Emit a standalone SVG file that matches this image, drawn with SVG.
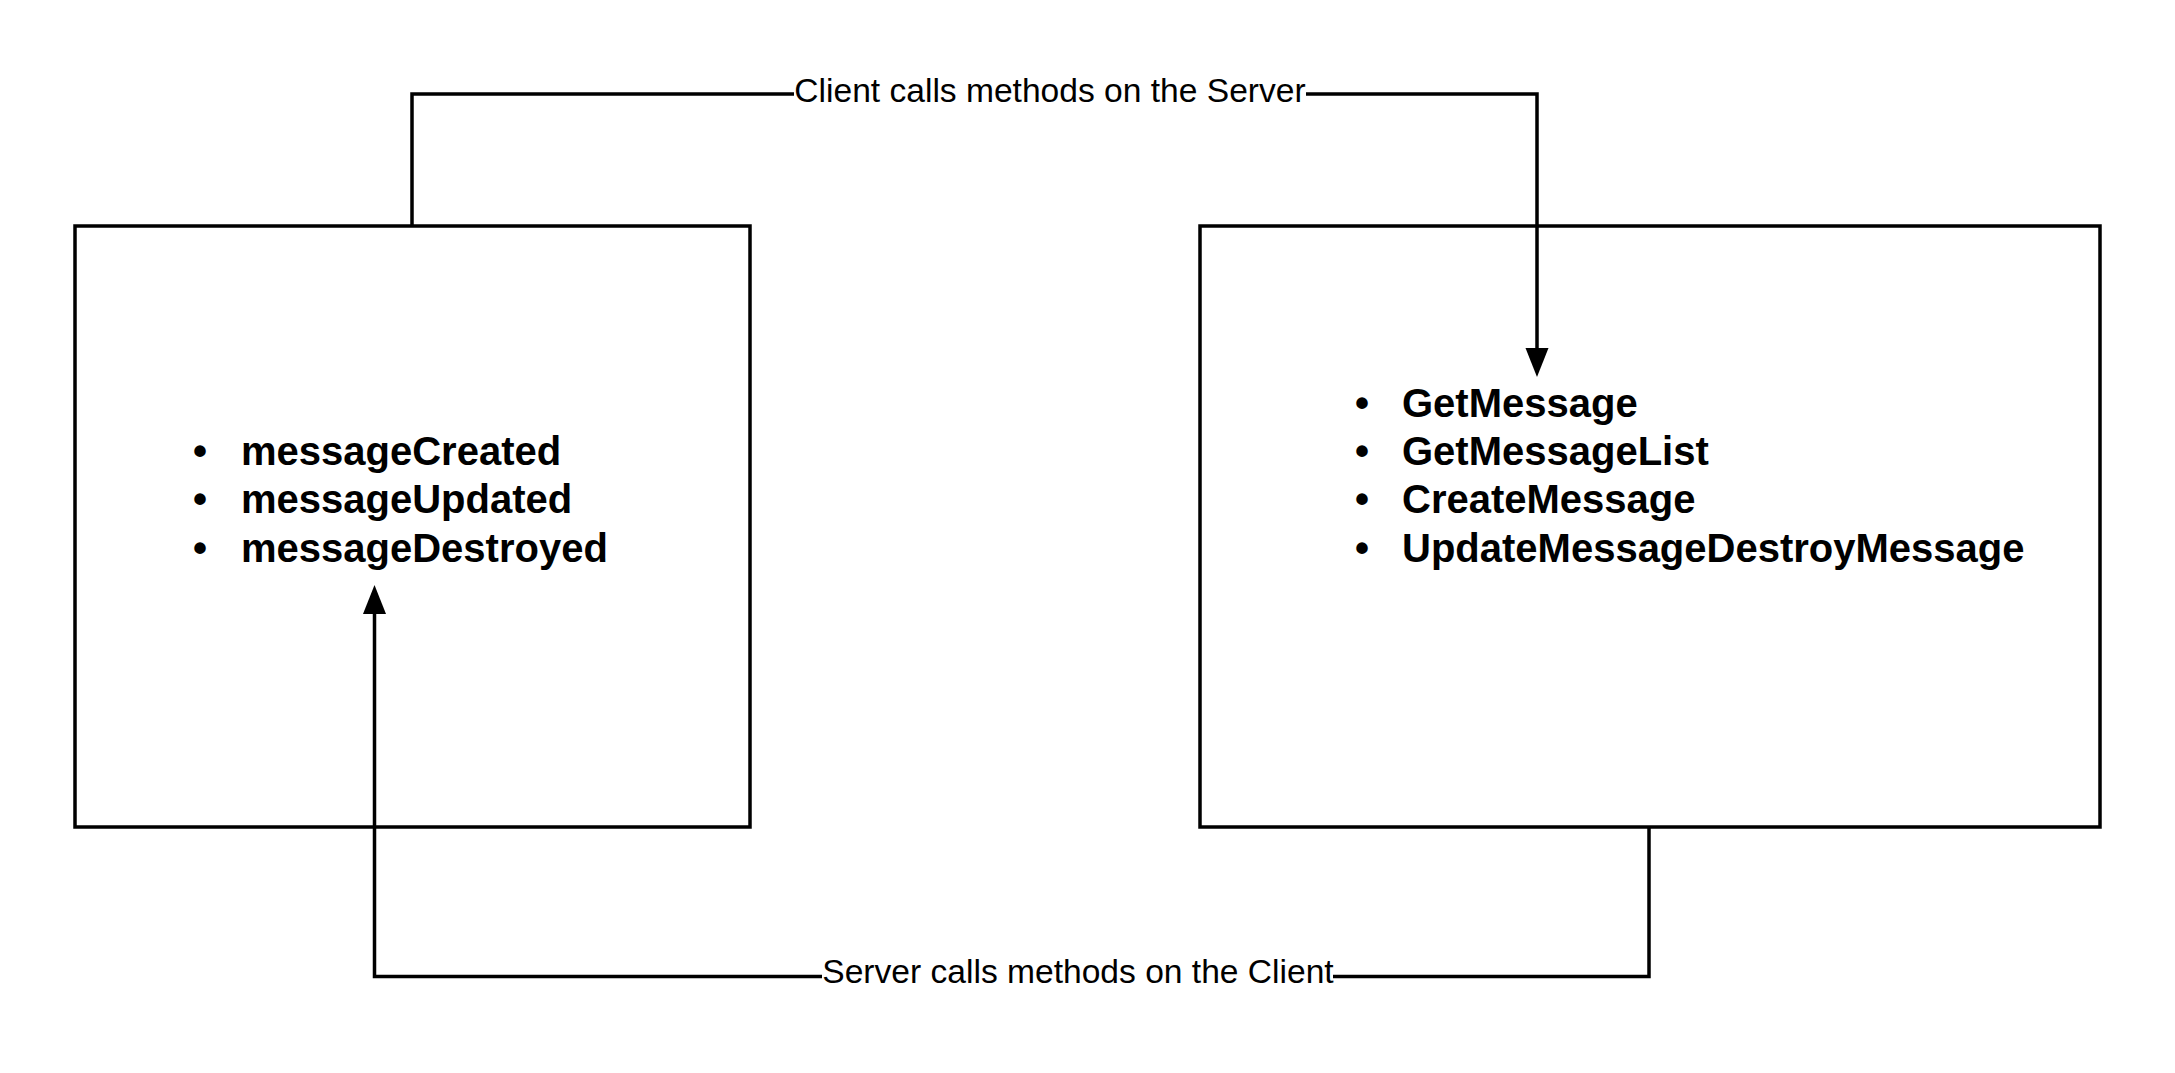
<svg xmlns="http://www.w3.org/2000/svg" width="2175" height="1073" viewBox="0 0 2175 1073">
<style>
.box{fill:#fff;stroke:#000;stroke-width:3.5}
.edge{fill:none;stroke:#000;stroke-width:3.5}
.lbl{font-family:"Liberation Sans",Arial,sans-serif;font-size:33.6px;fill:#000;text-anchor:middle}
.item{font-family:"Liberation Sans",Arial,sans-serif;font-size:40px;font-weight:bold;fill:#000}
.bg{fill:#fff}
</style>
<defs>
<marker id="arr" markerUnits="userSpaceOnUse" markerWidth="30" markerHeight="24" refX="0" refY="11.5" orient="auto" overflow="visible">
<path d="M0,0 L29,11.5 L0,23 z" fill="#000"/>
</marker>
</defs>
<rect width="2175" height="1073" fill="#fff"/>
<g id="client">
<rect class="box" x="75" y="226" width="675" height="601"/>
<text class="item"><tspan x="193" y="465">•</tspan><tspan x="241" y="465">messageCreated</tspan></text>
<text class="item"><tspan x="193" y="513">•</tspan><tspan x="241" y="513">messageUpdated</tspan></text>
<text class="item"><tspan x="193" y="561.5">•</tspan><tspan x="241" y="561.5">messageDestroyed</tspan></text>
</g>
<g id="server">
<rect class="box" x="1200" y="226" width="900" height="601"/>
<text class="item"><tspan x="1355" y="417">•</tspan><tspan x="1402" y="417">GetMessage</tspan></text>
<text class="item"><tspan x="1355" y="465">•</tspan><tspan x="1402" y="465">GetMessageList</tspan></text>
<text class="item"><tspan x="1355" y="513">•</tspan><tspan x="1402" y="513">CreateMessage</tspan></text>
<text class="item"><tspan x="1355" y="561.5">•</tspan><tspan x="1402" y="561.5">UpdateMessageDestroyMessage</tspan></text>
</g>
<g id="connectors">
<path class="edge" d="M412,226 V94 H1537 V348" marker-end="url(#arr)"/>
<rect class="bg" x="794" y="76" width="512" height="34"/>
<text class="lbl" x="1050" y="102">Client calls methods on the Server</text>
<path class="edge" d="M1649,827 V976.5 H374.5 V614" marker-end="url(#arr)"/>
<rect class="bg" x="822" y="958" width="511" height="34"/>
<text class="lbl" x="1078" y="983">Server calls methods on the Client</text>
</g>
</svg>
